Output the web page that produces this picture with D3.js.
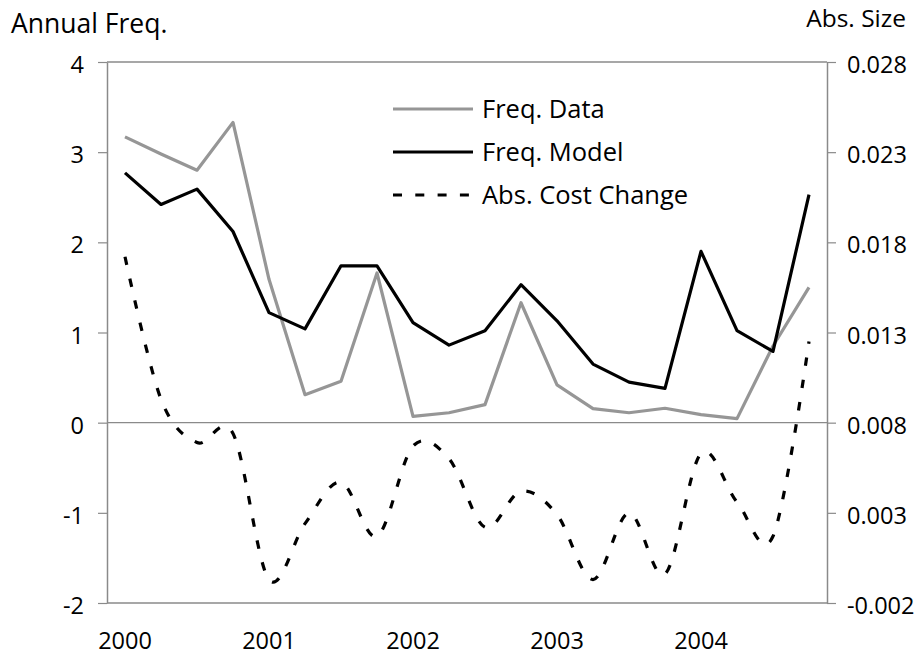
<!DOCTYPE html>
<html><head><meta charset="utf-8">
<script src="https://cdn.jsdelivr.net/npm/d3@7"></script>
<style>
html,body{margin:0;padding:0;background:#fff;}
svg{display:block;font-family:"Open Sans",sans-serif;}
</style></head>
<body><svg id="c" width="921" height="657"></svg>
<script>
const categories = ["2000Q1","2000Q2","2000Q3","2000Q4","2001Q1","2001Q2","2001Q3","2001Q4","2002Q1","2002Q2","2002Q3","2002Q4","2003Q1","2003Q2","2003Q3","2003Q4","2004Q1","2004Q2","2004Q3","2004Q4"];
const yearTickLabels = ["2000","2001","2002","2003","2004"];
const freqData  = [3.17, 2.98, 2.80, 3.33, 1.59, 0.31, 0.46, 1.66, 0.07, 0.11, 0.20, 1.33, 0.42, 0.155, 0.11, 0.16, 0.09, 0.045, 0.85, 1.50];
const freqModel = [2.77, 2.42, 2.59, 2.12, 1.22, 1.04, 1.74, 1.74, 1.11, 0.86, 1.02, 1.53, 1.13, 0.65, 0.45, 0.38, 1.90, 1.02, 0.79, 2.53];
const absCost   = [0.0172, 0.0093, 0.0069, 0.0074, -0.0007, 0.0024, 0.0047, 0.0017, 0.0067, 0.0060, 0.0022, 0.0042, 0.0029, -0.0007, 0.0030, -0.0004, 0.0063, 0.0036, 0.0017, 0.0125];
const leftTicks = [-2,-1,0,1,2,3,4];
const rightTicks = [-0.002,0.003,0.008,0.013,0.018,0.023,0.028];
const seriesNames = ["Freq. Data","Freq. Model","Abs. Cost Change"];

const svg = d3.select("#c");
const L=107, R=827, T=62, B=603;
const axisColor="#8a8a8a";
const fs=23.5;
const font="'Open Sans', sans-serif";

const x = d3.scaleBand().domain(categories).range([L,R]);
const cx = c => x(c)+x.bandwidth()/2;
const yL = d3.scaleLinear().domain([-2,4]).range([B,T]);
const yR = d3.scaleLinear().domain([-0.002,0.028]).range([B,T]);

// frame lines
svg.append("line").attr("x1",L).attr("x2",R).attr("y1",T).attr("y2",T).attr("stroke",axisColor).attr("stroke-width",1.5);
svg.append("line").attr("x1",L).attr("x2",R).attr("y1",B).attr("y2",B).attr("stroke",axisColor).attr("stroke-width",1.5);
svg.append("line").attr("x1",L).attr("x2",R).attr("y1",yL(0)).attr("y2",yL(0)).attr("stroke",axisColor).attr("stroke-width",1.2);

function styleAxis(g){
  g.select(".domain").attr("stroke",axisColor).attr("stroke-width",1.5);
  g.selectAll(".tick line").attr("stroke",axisColor).attr("stroke-width",1.2);
  g.selectAll("text").attr("fill","#000").style("font-size",fs+"px").style("font-family",font);
}
const gl = svg.append("g").attr("transform",`translate(${L},0)`)
  .call(d3.axisLeft(yL).tickValues(leftTicks).tickSize(9).tickSizeOuter(0).tickPadding(14).tickFormat(d3.format("d")));
styleAxis(gl);
gl.selectAll("text").text(d=>String(d)).attr("dy","0.45em");
const gr = svg.append("g").attr("transform",`translate(${R},0)`)
  .call(d3.axisRight(yR).tickValues(rightTicks).tickSize(9).tickSizeOuter(0).tickPadding(11).tickFormat(d3.format(".3f")));
styleAxis(gr);
gr.selectAll("text").text(d => d3.format(".3f")(d).replace("−","-")).attr("dy","0.45em");

const xTicks = categories.filter((c,i)=>i%4===0);
const gx = svg.append("g").attr("transform",`translate(0,${B})`)
  .call(d3.axisBottom(x).tickValues(xTicks).tickSize(0).tickPadding(29).tickFormat((c,i)=>yearTickLabels[i]));
gx.select(".domain").remove();
styleAxis(gx);

// axis titles
svg.append("text").attr("x",11).attr("y",33).text("Annual Freq.").style("font-size","26.5px").style("font-family",font);
svg.append("text").attr("x",906).attr("y",27).attr("text-anchor","end").text("Abs. Size").style("font-size","24.5px").style("font-family",font);

// series
const lineL = d3.line().x((d,i)=>cx(categories[i])).y(d=>yL(d));
const lineR = d3.line().x((d,i)=>cx(categories[i])).y(d=>yR(d)).curve(d3.curveCatmullRom.alpha(0));

svg.append("path").datum(absCost).attr("d",lineR).attr("fill","none").attr("stroke","#000").attr("stroke-width",3.2).attr("stroke-dasharray","8.5,14");
svg.append("path").datum(freqData).attr("d",lineL).attr("fill","none").attr("stroke","#969696").attr("stroke-width",3.2).attr("stroke-linejoin","round");
svg.append("path").datum(freqModel).attr("d",lineL).attr("fill","none").attr("stroke","#000").attr("stroke-width",3.2).attr("stroke-linejoin","round");

// legend
const legY=[109,152,195];
const legStyles=[{c:"#969696",d:null},{c:"#000",d:null},{c:"#000",d:"9,13.3"}];
const lg = svg.append("g");
seriesNames.forEach((n,i)=>{
  const ln = lg.append("line").attr("x1",393).attr("x2",473).attr("y1",legY[i]).attr("y2",legY[i])
    .attr("stroke",legStyles[i].c).attr("stroke-width",3.2);
  if(legStyles[i].d) ln.attr("stroke-dasharray",legStyles[i].d);
  lg.append("text").attr("x",482).attr("y",legY[i]).attr("dy","0.36em").text(n).style("font-size","25.5px").style("font-family",font);
});
</script></body></html>
